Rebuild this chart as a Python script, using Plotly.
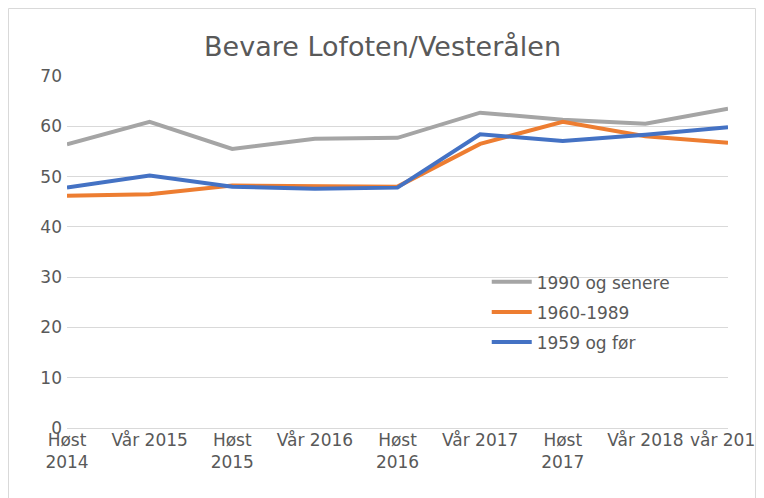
import plotly.graph_objects as go

categories = ["Høst<br>2014", "Vår 2015", "Høst<br>2015", "Vår 2016", "Høst<br>2016",
              "Vår 2017", "Høst<br>2017", "Vår 2018", "vår 2019"]
series_names = ["1990 og senere", "1960-1989", "1959 og før"]
gray_vals = [56.4, 60.9, 55.5, 57.5, 57.7, 62.7, 61.3, 60.5, 63.5]
orange_vals = [46.2, 46.5, 48.2, 48.1, 48.0, 56.5, 60.9, 58.0, 56.7]
blue_vals = [47.8, 50.2, 48.0, 47.6, 47.8, 58.4, 57.1, 58.3, 59.8]
colors = ["#A5A5A5", "#ED7D31", "#4472C4"]
y_ticks = [0, 10, 20, 30, 40, 50, 60, 70]

fig = go.Figure()
for name, vals, col in zip(series_names, [gray_vals, orange_vals, blue_vals], colors):
    fig.add_trace(go.Scatter(x=categories, y=vals, mode="lines", name=name,
                             legendgroup=name,
                             line=dict(color=col, width=4)))

font_family = "DejaVu Sans"
fig.update_layout(
    width=756, height=490,
    margin=dict(l=59, r=36, t=68, b=70, autoexpand=False),
    paper_bgcolor="white", plot_bgcolor="white",
    font=dict(family=font_family, size=17, color="#595959"),
    title=dict(text="Bevare Lofoten/Vesterålen", x=0.4954, xref="container", xanchor="center",
               y=0.9204, yanchor="middle",
               font=dict(family=font_family, size=27, color="#595959")),
    showlegend=True,
    legend=dict(x=0.635, y=0.465, xanchor="left", yanchor="top",
                bgcolor="rgba(0,0,0,0)", tracegroupgap=5, itemwidth=40,
                font=dict(size=17, color="#595959")),
    xaxis=dict(type="category", range=[0, 8], showgrid=False, zeroline=False,
               showline=False, ticks="", tickfont=dict(size=17, color="#595959"),
               tickangle=0, fixedrange=True, automargin=False,
               ticklabeloverflow="allow"),
    yaxis=dict(range=[0, 70], tickvals=y_ticks, showgrid=True, gridcolor="#D9D9D9",
               gridwidth=1, zeroline=True, zerolinecolor="#D9D9D9", zerolinewidth=1,
               showline=False, ticks="", ticklabelstandoff=4, automargin=False,
               tickfont=dict(size=17, color="#595959")),
    shapes=[dict(type="rect", xref="paper", yref="paper",
                 x0=-0.0885, x1=1.0416, y0=-0.25, y1=1.1918,
                 line=dict(color="#D9D9D9", width=1), fillcolor="rgba(0,0,0,0)",
                 layer="below")],
)

fig.write_html("out.html")
